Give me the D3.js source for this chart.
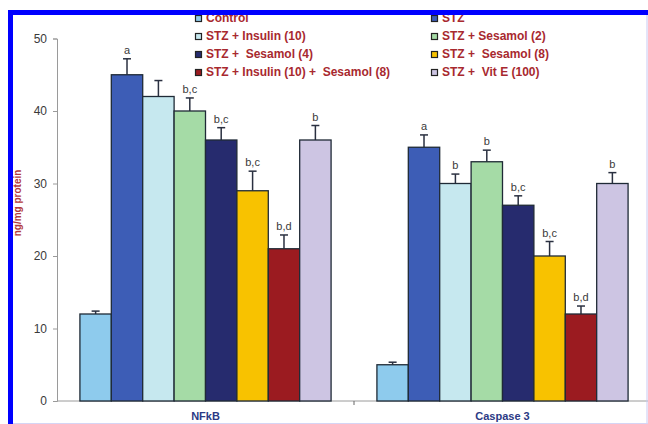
<!DOCTYPE html>
<html>
<head>
<meta charset="utf-8">
<script src="https://cdn.jsdelivr.net/npm/d3@7"></script>
<style>
  body { margin: 0; background: #fff; }
  svg { display: block; }
</style>
</head>
<body>
<div id="chart"></div>
<script>
// data
const categories = ["NFkB", "Caspase 3"];
const groups = ["Control", "STZ", "STZ + Insulin (10)", "STZ + Sesamol (2)",
  "STZ + Sesamol (4)", "STZ + Sesamol (8)", "STZ + Insulin (10) + Sesamol (8)", "STZ + Vit E (100)"];
const legendNames = ["Control", "STZ", "STZ + Insulin (10)", "STZ + Sesamol (2)",
  "STZ +  Sesamol (4)", "STZ +  Sesamol (8)", "STZ + Insulin (10) +  Sesamol (8)", "STZ +  Vit E (100)"];
const colors = ["#8ecbed", "#3d5db6", "#c6e8ef", "#a5dba6", "#262b6e", "#f8c200", "#9b1b20", "#cdc5e3"];

const nfkbValues = [12, 45, 42, 40, 36, 29, 21, 36];
const nfkbErrors = [0.4, 2.2, 2.2, 1.8, 1.7, 2.7, 1.9, 2.0];
const nfkbLabels = ["", "a", "", "b,c", "b,c", "b,c", "b,d", "b"];

const caspValues = [5, 35, 30, 33, 27, 20, 12, 30];
const caspErrors = [0.35, 1.7, 1.3, 1.6, 1.3, 2.0, 1.1, 1.5];
const caspLabels = ["", "a", "b", "b", "b,c", "b,c", "b,d", "b"];

const yTicks = [0, 10, 20, 30, 40, 50];

const width = 648, height = 424;

const svg = d3.select("#chart").append("svg")
  .attr("width", width)
  .attr("height", height)
  .attr("font-family", "Arial, 'Liberation Sans', sans-serif");

svg.append("rect").attr("width", width).attr("height", height).attr("fill", "#fff");

const y = d3.scaleLinear().domain([0, 50]).range([401, 38.5]);
const x0 = d3.scaleBand().domain(categories).range([57, 651]);
const x1 = d3.scaleBand().domain(groups).range([0, x0.bandwidth()]).paddingOuter(0.73);

const rows = categories.map((c, i) => ({
  cat: c,
  values: i === 0 ? nfkbValues : caspValues,
  errors: i === 0 ? nfkbErrors : caspErrors,
  labels: i === 0 ? nfkbLabels : caspLabels
}));

// y axis
const yAxis = svg.append("g")
  .attr("transform", "translate(57,0)")
  .call(d3.axisLeft(y).tickValues(yTicks).tickSize(4).tickPadding(6));
yAxis.select(".domain").attr("stroke", "#9a9a9a");
yAxis.selectAll(".tick line").attr("stroke", "#9a9a9a");
yAxis.selectAll(".tick text").attr("fill", "#3a3a3a").attr("font-size", 12);

// x axis line + ticks
svg.append("line")
  .attr("x1", 57).attr("x2", 651)
  .attr("y1", y(0)).attr("y2", y(0))
  .attr("stroke", "#9a9a9a");
svg.selectAll(".xtick")
  .data(categories.slice(1))
  .join("line")
  .attr("x1", d => x0(d)).attr("x2", d => x0(d))
  .attr("y1", y(0)).attr("y2", y(0) + 4)
  .attr("stroke", "#666");

// bars
const g = svg.selectAll(".cat")
  .data(rows)
  .join("g")
  .attr("transform", d => `translate(${x0(d.cat)},0)`);

const bar = g.selectAll(".bar")
  .data(d => d.values.map((v, i) => ({ name: groups[i], v, e: d.errors[i], lab: d.labels[i], i })))
  .join("g");

bar.append("line")
  .attr("x1", d => x1(d.name) + x1.bandwidth() / 2)
  .attr("x2", d => x1(d.name) + x1.bandwidth() / 2)
  .attr("y1", d => y(d.v))
  .attr("y2", d => y(d.v + d.e))
  .attr("stroke", "#2a3040")
  .attr("stroke-width", 1.5);
bar.append("line")
  .attr("x1", d => x1(d.name) + x1.bandwidth() / 2 - 4)
  .attr("x2", d => x1(d.name) + x1.bandwidth() / 2 + 4)
  .attr("y1", d => y(d.v + d.e))
  .attr("y2", d => y(d.v + d.e))
  .attr("stroke", "#2a3040")
  .attr("stroke-width", 1.5);

bar.append("rect")
  .attr("x", d => x1(d.name))
  .attr("y", d => y(d.v))
  .attr("width", x1.bandwidth())
  .attr("height", d => y(0) - y(d.v))
  .attr("fill", d => colors[d.i])
  .attr("stroke", "#1f2a36")
  .attr("stroke-width", 1.3);

bar.append("text")
  .attr("x", d => x1(d.name) + x1.bandwidth() / 2)
  .attr("y", d => y(d.v + d.e) - 5)
  .attr("text-anchor", "middle")
  .attr("font-size", 11)
  .attr("fill", "#3a3a3a")
  .text(d => d.lab);

// category labels
svg.selectAll(".catlabel")
  .data(categories)
  .join("text")
  .attr("x", d => x0(d) + x0.bandwidth() / 2)
  .attr("y", 420)
  .attr("text-anchor", "middle")
  .attr("font-size", 11)
  .attr("font-weight", "bold")
  .attr("fill", "#2b3a85")
  .text(d => d);

// y label
svg.append("text")
  .attr("transform", "translate(21,203) rotate(-90)")
  .attr("text-anchor", "middle")
  .attr("font-size", 10)
  .attr("font-weight", "bold")
  .attr("fill", "#b23a3a")
  .text("ng/mg protein");

// legend
const legend = svg.append("g");
const li = legend.selectAll("g")
  .data(legendNames)
  .join("g")
  .attr("transform", (d, i) => `translate(${i % 2 === 0 ? 195 : 431},${22 + Math.floor(i / 2) * 18})`);
li.append("rect")
  .attr("x", 0.5).attr("y", -6.5)
  .attr("width", 6).attr("height", 6)
  .attr("fill", (d, i) => colors[i])
  .attr("stroke", "#222")
  .attr("stroke-width", 1.2);
li.append("text")
  .attr("x", 11)
  .attr("y", 0)
  .attr("font-size", 12)
  .attr("font-weight", "bold")
  .attr("fill", "#a8292f")
  .attr("xml:space", "preserve")
  .style("white-space", "pre")
  .text(d => d);

// frame
svg.append("rect").attr("x", 8).attr("y", 10).attr("width", width - 8).attr("height", 5).attr("fill", "#0000ff");
svg.append("rect").attr("x", 8).attr("y", 10).attr("width", 5).attr("height", height - 10).attr("fill", "#0000ff");
svg.append("line").attr("x1", 647).attr("x2", 647).attr("y1", 15).attr("y2", height).attr("stroke", "#c9c9f2");
svg.append("line").attr("x1", 13).attr("x2", width).attr("y1", 423.5).attr("y2", 423.5).attr("stroke", "#d5d5f5");
</script>
</body>
</html>
